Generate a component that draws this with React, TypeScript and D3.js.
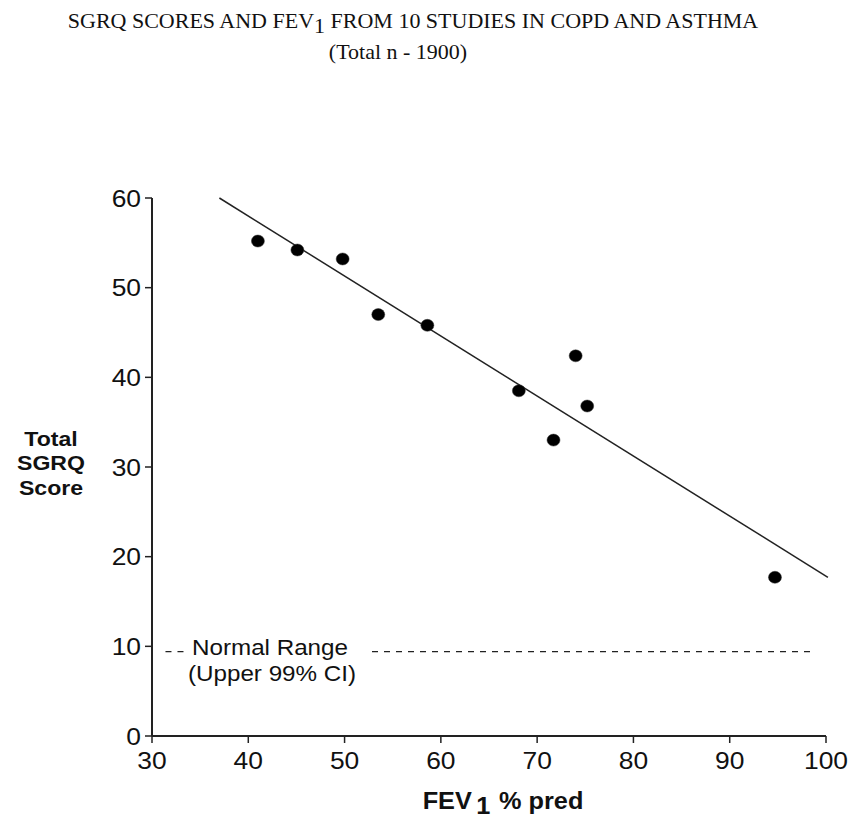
import React from "react";
import * as d3 from "d3";

const fev1 = [41.0, 45.1, 49.8, 53.5, 58.6, 68.1, 74.0, 75.2, 71.7, 94.7];
const sgrq = [55.2, 54.2, 53.2, 47.0, 45.8, 38.5, 42.4, 36.8, 33.0, 17.7];
const fitX = [37.0, 100.2];
const fitY = [60.0, 17.7];
const normalRangeY = 9.4;
const normalRangeX = [31.4, 98.5];
const xTicks = [30, 40, 50, 60, 70, 80, 90, 100];
const yTicks = [0, 10, 20, 30, 40, 50, 60];

const SX = 1.1;

function T(props: { x: number; y: number; anchor?: string; size: number; family: string; weight?: string; children: React.ReactNode }) {
  const { x, y, anchor = "start", size, family, weight = "normal", children } = props;
  return (
    <text transform={`translate(${x},${y}) scale(${SX},1)`} textAnchor={anchor} fontFamily={family} fontSize={size} fontWeight={weight} fill="#111">
      {children}
    </text>
  );
}

export default function App() {
  const W = 849, H = 820;
  const x = d3.scaleLinear().domain([30, 100]).range([152, 826]);
  const y = d3.scaleLinear().domain([0, 60]).range([736, 198]);
  const sans = "'Liberation Sans', Arial, sans-serif";
  const serif = "'Liberation Serif', 'Times New Roman', serif";
  const line = d3.line<[number, number]>().x(d => x(d[0])).y(d => y(d[1]));
  const fitPts: [number, number][] = fitX.map((v, i) => [v, fitY[i]]);
  return (
    <svg width={W} height={H} style={{ position: "absolute", left: 0, top: 0, background: "#fff" }}>
      <T x={413} y={28} anchor="middle" size={20} family={serif}>
        SGRQ SCORES AND FEV<tspan dy={5}>1</tspan><tspan dy={-5}>{"  FROM 10 STUDIES IN COPD AND ASTHMA"}</tspan>
      </T>
      <T x={398} y={59} anchor="middle" size={20} family={serif}>(Total n - 1900)</T>

      {/* axes */}
      <line x1={x(30)} x2={x(30)} y1={y(60)} y2={y(0)} stroke="#222" strokeWidth={2} />
      <line x1={x(30)} x2={x(100)} y1={y(0)} y2={y(0)} stroke="#222" strokeWidth={2} />
      {yTicks.map(t => (
        <g key={"y" + t}>
          <line x1={x(30) - 7} x2={x(30)} y1={y(t)} y2={y(t)} stroke="#222" strokeWidth={1.5} />
          <T x={x(30) - 11} y={y(t) + 8.5} anchor="end" size={24} family={sans}>{t}</T>
        </g>
      ))}
      {xTicks.map(t => (
        <g key={"x" + t}>
          <line x1={x(t)} x2={x(t)} y1={y(0)} y2={y(0) + 7} stroke="#222" strokeWidth={1.5} />
          <T x={x(t)} y={y(0) + 33} anchor="middle" size={24} family={sans}>{t}</T>
        </g>
      ))}

      {/* axis titles */}
      <T x={51} y={446} anchor="middle" size={21} family={sans} weight="bold">Total</T>
      <T x={51} y={470} anchor="middle" size={21} family={sans} weight="bold">SGRQ</T>
      <T x={51} y={495} anchor="middle" size={21} family={sans} weight="bold">Score</T>
      <T x={503} y={809} anchor="middle" size={23} family={sans} weight="bold">
        FEV<tspan dx={4} dy={5}>1</tspan><tspan dx={8} dy={-5}>% pred</tspan>
      </T>

      {/* normal range */}
      <line x1={x(normalRangeX[0])} x2={x(normalRangeX[0]) + 22} y1={y(normalRangeY)} y2={y(normalRangeY)} stroke="#222" strokeWidth={1.2} strokeDasharray="6,6" />
      <line x1={372} x2={x(normalRangeX[1])} y1={y(normalRangeY)} y2={y(normalRangeY)} stroke="#222" strokeWidth={1.2} strokeDasharray="6,6" />
      <T x={270} y={655} anchor="middle" size={22} family={sans}>Normal Range</T>
      <T x={272} y={681} anchor="middle" size={22} family={sans}>(Upper 99% CI)</T>

      {/* regression line */}
      <path d={line(fitPts) || ""} fill="none" stroke="#222" strokeWidth={1.5} />

      {/* points */}
      {fev1.map((v, i) => (
        <ellipse key={i} cx={x(v)} cy={y(sgrq[i])} rx={6.5} ry={6} fill="#000" stroke="#333" strokeWidth={0.5} />
      ))}
    </svg>
  );
}
